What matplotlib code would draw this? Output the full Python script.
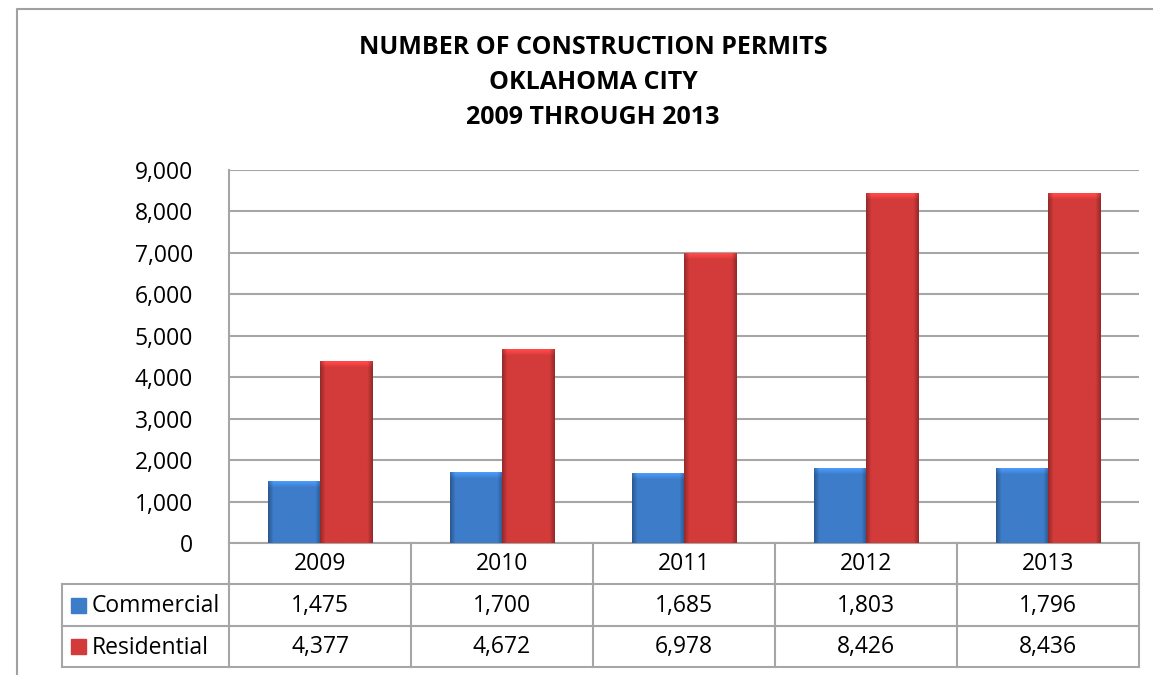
import numpy as np
import matplotlib.pyplot as plt
from matplotlib.ticker import FuncFormatter
from matplotlib.colors import to_rgb

plt.rcParams['font.family'] = ['Open Sans', 'DejaVu Sans']

# datos
years = ['2009', '2010', '2011', '2012', '2013']
commercial = [1475, 1700, 1685, 1803, 1796]
residential = [4377, 4672, 6978, 8426, 8436]
series_names = ['Commercial', 'Residential']
title_lines = ['NUMBER OF CONSTRUCTION PERMITS', 'OKLAHOMA CITY', '2009 THROUGH 2013']
y_ticks = [0, 1000, 2000, 3000, 4000, 5000, 6000, 7000, 8000, 9000]

blue = '#3d7cc9'
red = '#d33b3a'
line_col = '#a6a6a6'
fs = 16.5

W, H = 1153, 675
fig = plt.figure(figsize=(W / 100, H / 100), dpi=100)

# zona del grafico en pixeles
left, right, top, bottom = 229, 1139, 170, 543
ax = fig.add_axes([left / W, 1 - bottom / H, (right - left) / W, (bottom - top) / H])
ax.patch.set_alpha(0)


def shade_bar(bar, color):
    # relleno con degradado tipo bisel de Excel
    x0, w, h = bar.get_x(), bar.get_width(), bar.get_height()
    base = np.array(to_rgb(color))
    px_w = 52
    px_h = max(int(h / 9000 * (bottom - top)), 8)
    shade = np.ones((px_h, px_w))
    ramp = np.linspace(0.72, 1.0, 6)
    shade[:, :6] *= ramp
    shade[:, -6:] *= ramp[::-1]
    top_band = np.linspace(1.25, 1.0, 7)
    shade[:7, :] *= top_band[:, None]
    img = np.clip(base[None, None, :] * shade[:, :, None], 0, 1)
    ax.imshow(img, extent=(x0, x0 + w, 0, h), aspect='auto',
              interpolation='bilinear', zorder=3)


x = np.arange(len(years))
bw = 0.286
bars_c = ax.bar(x - bw / 2, commercial, bw, color=blue, zorder=2)
bars_r = ax.bar(x + bw / 2, residential, bw, color=red, zorder=2)
for b in bars_c:
    shade_bar(b, blue)
for b in bars_r:
    shade_bar(b, red)

ax.set_xlim(-0.5, len(years) - 0.5)
ax.set_ylim(0, 9000)
ax.set_yticks(y_ticks)
ax.yaxis.set_major_formatter(FuncFormatter(lambda v, p: f'{int(v):,}'))
ax.tick_params(axis='y', length=0, pad=26, labelsize=fs)
ax.set_xticks([])
ax.grid(axis='y', color=line_col, linewidth=1.5, zorder=0)
for s in ['top', 'right']:
    ax.spines[s].set_visible(False)
for s in ['left', 'bottom']:
    ax.spines[s].set_color(line_col)
    ax.spines[s].set_linewidth(1.5)

# capa superior en pixeles para titulo, tabla y borde
ov = fig.add_axes([0, 0, 1, 1], zorder=5)
ov.set_xlim(0, W)
ov.set_ylim(H, 0)
ov.axis('off')
ov.patch.set_alpha(0)

# borde exterior
ov.plot([16.5, 16.5, W + 5], [H + 5, 8.5, 8.5], color='#a0a0a0', lw=1.5)

for i, t in enumerate(title_lines):
    ov.text(593, 47 + i * 35.5, t, ha='center', va='center',
            fontsize=18, fontweight='bold')

# tabla de datos
row_y = [543, 584, 626, 667]
tab_left = 62
cw = (right - left) / len(years)
for yy in row_y[1:]:
    ov.plot([tab_left, right], [yy, yy], color=line_col, lw=1.5)
ov.plot([tab_left, tab_left], [row_y[1], row_y[3]], color=line_col, lw=1.5)
ov.plot([left, left], [row_y[0], row_y[3]], color=line_col, lw=1.5)
for k in range(1, len(years) + 1):
    xx = left + k * cw
    ov.plot([xx, xx], [row_y[0], row_y[3]], color=line_col, lw=1.5)

for k, yr in enumerate(years):
    cx = left + (k + 0.5) * cw
    ov.text(cx, (row_y[0] + row_y[1]) / 2 + 1, yr, ha='center', va='center', fontsize=fs)
    ov.text(cx, (row_y[1] + row_y[2]) / 2 + 1, f'{commercial[k]:,}', ha='center', va='center', fontsize=fs)
    ov.text(cx, (row_y[2] + row_y[3]) / 2 + 1, f'{residential[k]:,}', ha='center', va='center', fontsize=fs)

for j, (name, col) in enumerate(zip(series_names, [blue, red])):
    cy = (row_y[j + 1] + row_y[j + 2]) / 2
    ov.add_patch(plt.Rectangle((71, cy - 7.5), 15, 15, color=col))
    ov.text(92, cy + 1, name, ha='left', va='center', fontsize=fs)

fig.savefig('out.png', dpi=100)
